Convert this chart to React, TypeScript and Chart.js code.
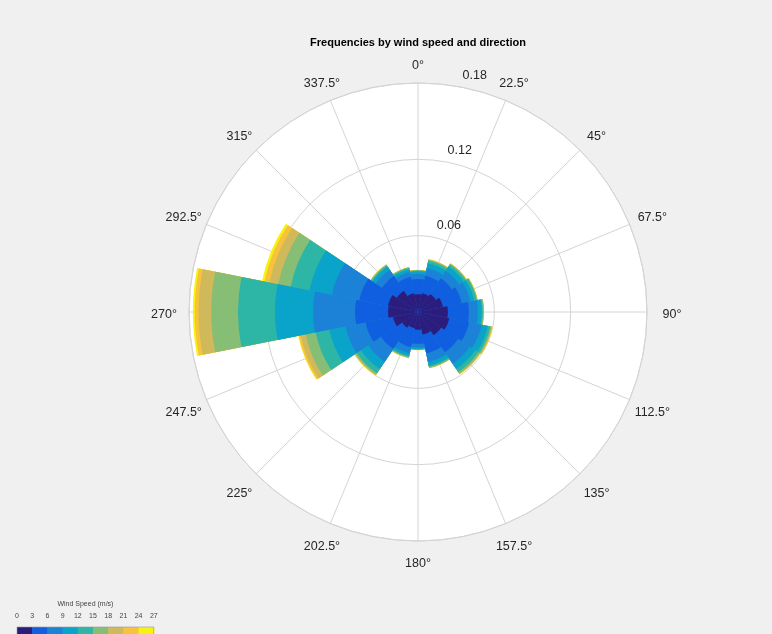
import React, { useEffect, useRef } from "react";
import { Chart, registerables } from "chart.js";

Chart.register(...registerables);

// ---- data ----
const directions = [0, 22.5, 45, 67.5, 90, 112.5, 135, 157.5, 180, 202.5, 225, 247.5, 270, 292.5, 315, 337.5];
const directionLabels = directions.map((d) => `${d}°`);
const speedTicks = [0, 3, 6, 9, 12, 15, 18, 21, 24, 27];

// frequency per direction for each wind speed bin (m/s)
const bin0to3 = [0.014, 0.015, 0.017, 0.02, 0.0235, 0.025, 0.022, 0.018, 0.014, 0.013, 0.015, 0.02, 0.0235, 0.024, 0.02, 0.015];
const bin3to6 = [0.012, 0.014, 0.015, 0.015, 0.0165, 0.016, 0.016, 0.015, 0.011, 0.015, 0.02, 0.022, 0.026, 0.023, 0.014, 0.013];
const bin6to9 = [0.004, 0.006, 0.007, 0.007, 0.007, 0.01, 0.011, 0.007, 0.003, 0.005, 0.012, 0.016, 0.033, 0.022, 0.006, 0.004];
const bin9to12 = [0.002, 0.004, 0.004, 0.003, 0.003, 0.005, 0.005, 0.003, 0.001, 0.002, 0.007, 0.013, 0.03, 0.018, 0.003, 0.002];
const bin12to15 = [0.0007, 0.002, 0.002, 0.002, 0.001, 0.002, 0.003, 0.001, 0.0006, 0.001, 0.004, 0.011, 0.029, 0.015, 0.001, 0.0012];
const bin15to18 = [0.0002, 0.0008, 0.0006, 0.0006, 0.0006, 0.001, 0.0012, 0.0006, 0.0002, 0.0006, 0.0012, 0.008, 0.021, 0.01, 0.0006, 0.0004];
const bin18to21 = [0.0001, 0.0003, 0.0003, 0.0002, 0.0002, 0.0005, 0.0005, 0.0002, 0.0001, 0.0002, 0.0005, 0.004, 0.01, 0.007, 0.0003, 0.0002];
const bin21to24 = [0.0001, 0.0002, 0.0002, 0.0001, 0.0001, 0.0003, 0.0003, 0.0001, 0.0001, 0.0001, 0.0003, 0.0015, 0.003, 0.004, 0.0001, 0.0001];
const bin24to27 = [0.0001, 0.0001, 0.0001, 0.0001, 0.0001, 0.0002, 0.0002, 0.0001, 0.0001, 0.0001, 0.0002, 0.0005, 0.0015, 0.002, 0.0001, 0.0001];

const speedBins = [bin0to3, bin3to6, bin6to9, bin9to12, bin12to15, bin15to18, bin18to21, bin21to24, bin24to27];
const binColors = ["#2c1c7c", "#0f5fe0", "#1c82d8", "#0aa3c9", "#2db5a6", "#87be76", "#d0b95a", "#f7c33c", "#f6f212"];

const radialTicks = [0.06, 0.12, 0.18];
const radialMax = 0.18;

const titleText = "Frequencies by wind speed and direction";
const legendTitle = "Wind Speed (m/s)";

const FONT = '"Liberation Sans", Arial, Helvetica, sans-serif';
const GRID = "#d4d4d4";
const TEXT = "#262626";

const toRad = (d: number) => (d * Math.PI) / 180;

const decorPlugin = {
  id: "windRoseDecor",
  beforeDraw(chart: any) {
    const { ctx, width, height } = chart;
    const s = chart.scales.r;
    ctx.save();
    ctx.fillStyle = "#f0f0f0";
    ctx.fillRect(0, 0, width, height);
    ctx.beginPath();
    ctx.arc(s.xCenter, s.yCenter, s.getDistanceFromCenterForValue(radialMax), 0, Math.PI * 2);
    ctx.fillStyle = "#ffffff";
    ctx.fill();
    ctx.restore();
  },
  beforeDatasetsDraw(chart: any) {
    const { ctx } = chart;
    const s = chart.scales.r;
    const R = s.getDistanceFromCenterForValue(radialMax);
    ctx.save();
    ctx.strokeStyle = GRID;
    ctx.lineWidth = 1;
    directions.forEach((d) => {
      const a = toRad(d) - Math.PI / 2;
      ctx.beginPath();
      ctx.moveTo(s.xCenter, s.yCenter);
      ctx.lineTo(s.xCenter + Math.cos(a) * R, s.yCenter + Math.sin(a) * R);
      ctx.stroke();
    });
    radialTicks.forEach((t) => {
      const r = s.getDistanceFromCenterForValue(t);
      ctx.beginPath();
      ctx.arc(s.xCenter, s.yCenter, r, 0, Math.PI * 2);
      ctx.stroke();
    });
    ctx.restore();
  },
  afterDraw(chart: any) {
    const { ctx } = chart;
    const s = chart.scales.r;
    const R = s.getDistanceFromCenterForValue(radialMax);
    const cx = s.xCenter;
    const cy = s.yCenter;
    ctx.save();
    // outer circle
    ctx.strokeStyle = GRID;
    ctx.beginPath();
    ctx.arc(cx, cy, R, 0, Math.PI * 2);
    ctx.stroke();

    // title
    ctx.fillStyle = "#000";
    ctx.font = `bold 11px ${FONT}`;
    ctx.textAlign = "center";
    ctx.textBaseline = "middle";
    ctx.fillText(titleText, cx, cy - 269);

    // direction labels
    ctx.font = `12.5px ${FONT}`;
    ctx.fillStyle = TEXT;
    directionLabels.forEach((lab, i) => {
      const a = toRad(directions[i]) - Math.PI / 2;
      const rr = R + 20 + Math.abs(Math.cos(a)) * 5;
      ctx.fillText(lab, cx + Math.cos(a) * rr, cy + Math.sin(a) * rr + 3);
    });

    // radial tick labels
    radialTicks.forEach((t) => {
      const r = s.getDistanceFromCenterForValue(t);
      const a = toRad(11.25) - Math.PI / 2;
      const shift = t < 0.1 ? 16 : 12;
      ctx.fillText(String(t), cx + Math.cos(a) * r + shift, cy + Math.sin(a) * r - 12);
    });

    // colorbar legend
    const barLeft = 17;
    const boxW = 15.2;
    const barTop = 627;
    ctx.font = `7px ${FONT}`;
    ctx.fillStyle = "#444";
    ctx.fillText(legendTitle, barLeft + (boxW * binColors.length) / 2, 604);
    speedTicks.forEach((t, i) => {
      ctx.fillText(String(t), barLeft + i * boxW, 616);
    });
    binColors.forEach((c, i) => {
      ctx.fillStyle = c;
      ctx.fillRect(barLeft + i * boxW, barTop, boxW + 0.5, 14);
    });
    ctx.strokeStyle = "#9a9a9a";
    ctx.lineWidth = 0.6;
    ctx.strokeRect(barLeft, barTop, boxW * binColors.length, 14);
    ctx.restore();
  },
};

export default function App() {
  const canvasRef = useRef<HTMLCanvasElement | null>(null);

  useEffect(() => {
    if (!canvasRef.current) return;
    // cumulative stacks: dataset 0 (smallest) drawn on top
    const cumulative: number[][] = [];
    speedBins.forEach((bin, b) => {
      cumulative.push(bin.map((v, i) => v + (b > 0 ? cumulative[b - 1][i] : 0)));
    });
    const datasets = cumulative.map((data, b) => ({
      label: `${speedTicks[b]}-${speedTicks[b + 1]}`,
      data,
      backgroundColor: binColors[b],
      borderWidth: 0,
    }));

    const chart = new Chart(canvasRef.current, {
      type: "polarArea",
      data: { labels: directionLabels, datasets },
      options: {
        responsive: false,
        animation: false,
        events: [],
        layout: { padding: { left: 189, right: 125, top: 83, bottom: 93 } },
        plugins: {
          legend: { display: false },
          tooltip: { enabled: false },
          title: { display: false },
        },
        scales: {
          r: {
            min: 0,
            max: radialMax,
            startAngle: -11.25,
            ticks: { display: false, stepSize: 0.06 },
            grid: { display: false },
            angleLines: { display: false },
            pointLabels: { display: false },
          },
        },
      } as any,
      plugins: [decorPlugin],
    });
    return () => chart.destroy();
  }, []);

  return (
    <div style={{ position: "fixed", left: 0, top: 0, width: 772, height: 634, background: "#f0f0f0" }}>
      <canvas ref={canvasRef} width={772} height={634} style={{ display: "block" }} />
    </div>
  );
}
